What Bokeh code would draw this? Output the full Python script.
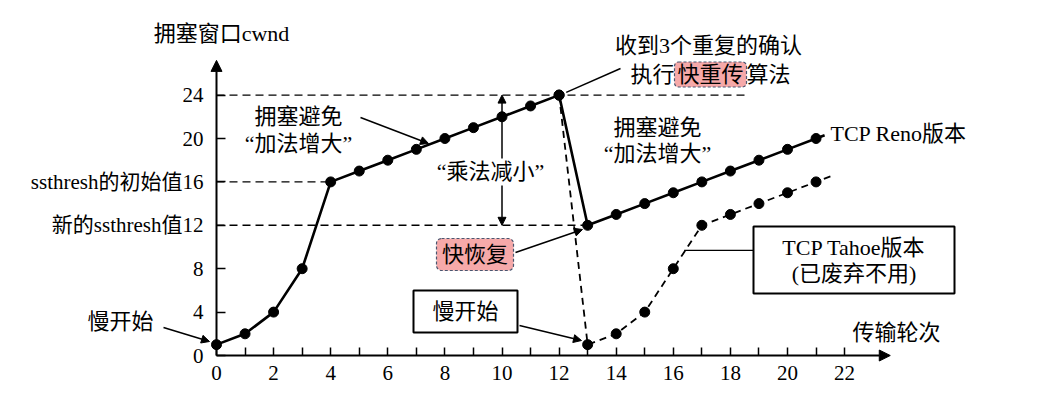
from bokeh.plotting import figure
from bokeh.models import Range1d, FixedTicker, Arrow, NormalHead, Label, BoxAnnotation
from bokeh.embed import file_html
from bokeh.resources import INLINE

# ---------------- data ----------------
reno_rounds = list(range(0, 22))
reno_cwnd = [1, 2, 4, 8, 16, 17, 18, 19, 20, 21, 22, 23, 24,
             12, 13, 14, 15, 16, 17, 18, 19, 20]
tahoe_rounds = [12, 13, 14, 15, 16, 17, 18, 19, 20, 21]
tahoe_cwnd = [24, 1, 2, 4, 8, 12, 13, 14, 15, 16]
x_ticks = list(range(0, 23))
y_ticks = [0, 4, 8, 12, 16, 20, 24]
y_tick_overrides = {12: "新的ssthresh值12", 16: "ssthresh的初始值16"}
ssthresh_init = 16
ssthresh_new = 12
cwnd_peak = 24
peak_round = 12
loss_round = 13

FONT = "Liberation Serif, Noto Sans CJK SC"
FS = "21px"

# ---------------- figure ----------------
W, H = 1034, 390
sx, sy = 28.55, 10.85
OX, OY = 216, 355          # page position of the origin
x0 = -OX / sx
x1 = x0 + W / sx
y1 = OY / sy
y0 = y1 - H / sy

p = figure(width=W, height=H, x_range=Range1d(x0, x1), y_range=Range1d(y0, y1),
           output_backend="svg", toolbar_location=None, title=None,
           min_border=0, min_border_left=0, min_border_right=0,
           min_border_top=0, min_border_bottom=0)
p.outline_line_color = None
p.grid.visible = False
p.background_fill_color = "white"
p.border_fill_color = "white"

# axes through origin
xa = p.xaxis[0]
xa.fixed_location = 0
xa.ticker = FixedTicker(ticks=x_ticks)
xa.major_label_overrides = {t: ("" if t % 2 else str(t)) for t in x_ticks}
xa.axis_line_color = None
xa.major_tick_in = 8
xa.major_tick_out = 0
xa.major_tick_line_width = 1.5
xa.minor_tick_line_color = None
xa.major_label_standoff = 10
xa.major_label_text_font = FONT
xa.major_label_text_font_size = FS
xa.major_label_text_color = "black"

ya = p.yaxis[0]
ya.fixed_location = 0
ya.ticker = FixedTicker(ticks=y_ticks)
ya.major_label_overrides = {t: y_tick_overrides.get(t, str(t)) for t in y_ticks}
ya.axis_line_color = None
ya.major_tick_in = 9
ya.major_tick_out = 0
ya.major_tick_line_width = 1.5
ya.minor_tick_line_color = None
ya.major_label_standoff = 13
ya.major_label_text_font = FONT
ya.major_label_text_font_size = FS
ya.major_label_text_color = "black"

# axis lines with arrow heads
p.add_layout(Arrow(end=NormalHead(size=11, fill_color="black", line_color="black"),
                   x_start=0, y_start=0, x_end=max(x_ticks) + 1.6, y_end=0,
                   line_width=2, line_color="black"))
p.add_layout(Arrow(end=NormalHead(size=11, fill_color="black", line_color="black"),
                   x_start=0, y_start=0, x_end=0, y_end=max(y_ticks) + 3.2,
                   line_width=2, line_color="black"))

# dashed reference lines
p.line([0, 18.5], [cwnd_peak, cwnd_peak], line_dash="8 5", line_color="black", line_width=1.4)
p.line([0, reno_rounds[reno_cwnd.index(ssthresh_init)]], [ssthresh_init, ssthresh_init],
       line_dash="8 5", line_color="black", line_width=1.4)
p.line([0, loss_round], [ssthresh_new, ssthresh_new],
       line_dash="8 5", line_color="black", line_width=1.4)

# Tahoe (dashed)
p.line(tahoe_rounds + [tahoe_rounds[-1] + 0.6], tahoe_cwnd + [tahoe_cwnd[-1] + 0.6],
       line_dash="7 5", line_color="black", line_width=1.8)
p.scatter(tahoe_rounds, tahoe_cwnd, size=10, color="black")

# Reno (solid)
p.line(reno_rounds + [reno_rounds[-1] + 0.3], reno_cwnd + [reno_cwnd[-1] + 0.3],
       line_color="black", line_width=2.6)
p.scatter(reno_rounds, reno_cwnd, size=10, color="black")

# Tahoe box connector
p.line([16.38, 18.8], [9.68, 9.68], line_color="black", line_width=1.3)

# ---------------- annotations ----------------
def lab(x, y, text, align="center", size="22px"):
    p.add_layout(Label(x=x, y=y, text=text, text_align=align, text_baseline="middle",
                       text_font=FONT, text_font_size=size, text_color="black"))

def box(cx, cy, wpx, hpx, fill, line, dash="solid", lw=1.2, radius=0):
    p.add_layout(BoxAnnotation(left=cx - wpx / 2 / sx, right=cx + wpx / 2 / sx,
                               bottom=cy - hpx / 2 / sy, top=cy + hpx / 2 / sy,
                               fill_color=fill, fill_alpha=1.0, line_color=line,
                               line_dash=dash, line_width=lw, line_alpha=1.0,
                               border_radius=radius))

def arrow(xs, ys, xe, ye, head=True, width=1.5):
    p.add_layout(Arrow(end=NormalHead(size=8, fill_color="black", line_color="black") if head else None,
                       x_start=xs, y_start=ys, x_end=xe, y_end=ye,
                       line_width=width, line_color="black"))

def dx(px):
    return (px - OX) / sx

def dy(py):
    return (OY - py) / sy

PINK = "#f6a9a9"
SLATE = "#4a5670"

lab(dx(221), dy(33), "拥塞窗口cwnd")
lab(dx(896), dy(332), "传输轮次")
lab(dx(830), dy(133), "TCP Reno版本", align="left")

# slow start (left)
lab(dx(120), dy(321), "慢开始")
arrow(dx(163), dy(327), dx(209), dy(341))

# congestion avoidance left
lab(dx(298), dy(116), "拥塞避免")
lab(dx(298), dy(143), "“加法增大”")
arrow(dx(360), dy(117), dx(428), dy(143))

# multiplicative decrease
lab(dx(490), dy(171), "“乘法减小”")
arrow(10, dy(158), 10, cwnd_peak)
arrow(10, dy(185), 10, ssthresh_new)

# 3 dup acks
lab(dx(708), dy(45), "收到3个重复的确认")
box(dx(710), dy(74), 72, 25, PINK, SLATE, dash="3 2", radius=4)
lab(dx(674), dy(74), "执行", align="right")
lab(dx(710), dy(74), "快重传")
lab(dx(746), dy(74), "算法", align="left")
arrow(peak_round + 0.25, cwnd_peak + 0.25, dx(620), dy(68), head=False)

# congestion avoidance right
lab(dx(657), dy(127), "拥塞避免")
lab(dx(657), dy(153), "“加法增大”")

# fast recovery
box(dx(474.5), dy(254), 77, 32, PINK, SLATE, dash="3 2", radius=5)
lab(dx(474.5), dy(254), "快恢复")
arrow(dx(515), dy(252), dx(582), dy(229))

# slow start (middle box)
box(dx(465), dy(311), 104, 42, "white", "black", lw=2)
lab(dx(465), dy(311), "慢开始")
arrow(dx(519), dy(325), dx(581), dy(340))

# Tahoe box
box(dx(853.5), dy(259.5), 201, 67, "white", "black", lw=2)
lab(dx(853.5), dy(247), "TCP Tahoe版本")
lab(dx(853.5), dy(273), "(已废弃不用)")

open("out.html", "w").write(file_html(p, INLINE))
